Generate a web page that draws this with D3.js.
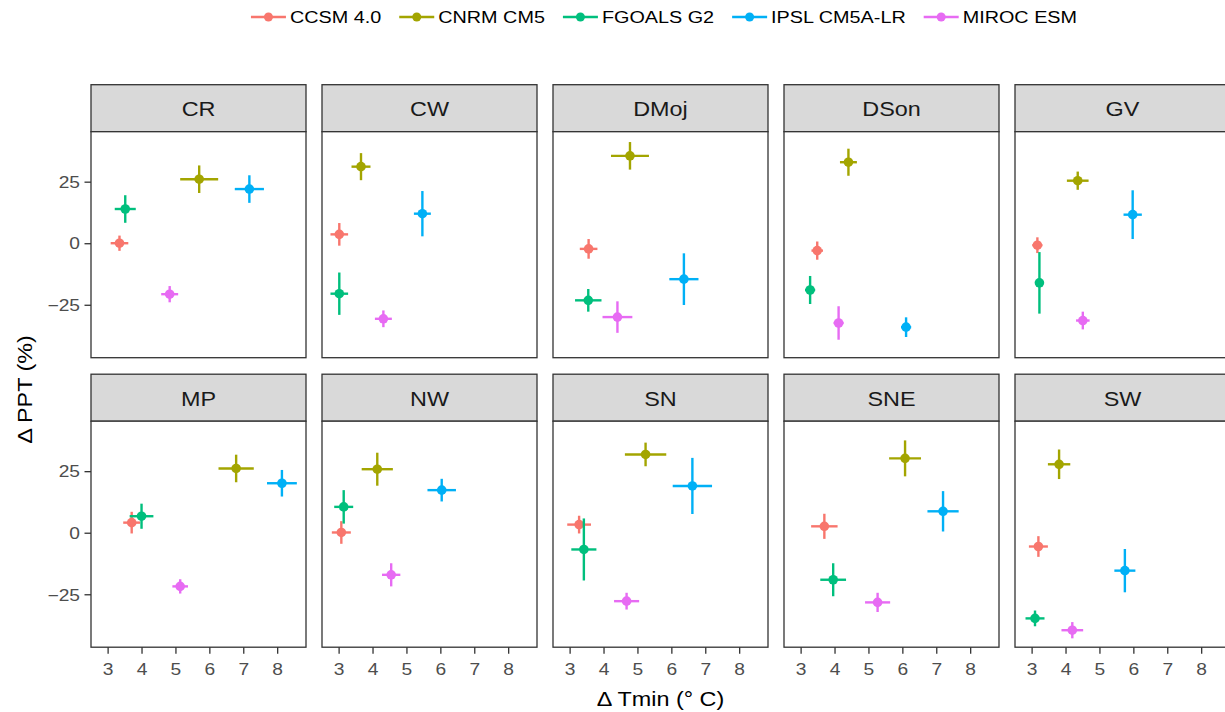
<!DOCTYPE html>
<html>
<head>
<meta charset="utf-8">
<script src="https://cdn.jsdelivr.net/npm/d3@7"></script>
<style>
  html, body { margin: 0; padding: 0; background: #fff; overflow: hidden; }
  svg { display: block; }
  text { font-family: "Liberation Sans", Arial, sans-serif; }
</style>
</head>
<body>
<svg id="chart" width="1225" height="712"></svg>
<script>
// ---------------- data ----------------
const models = ["CCSM 4.0", "CNRM CM5", "FGOALS G2", "IPSL CM5A-LR", "MIROC ESM"];
const colors = ["#F8766D", "#A3A500", "#00BF7D", "#00B0F6", "#E76BF3"];
const regions = ["CR", "CW", "DMoj", "DSon", "GV", "MP", "NW", "SN", "SNE", "SW"];

// Δ Tmin (°C) mean / half-width and Δ PPT (%) mean / half-width, in region order
const tminCCSM   = [3.35, 3.02, 3.56, 3.49, 3.17, 3.71, 3.08, 3.28, 3.70, 3.20];
const tminErrCCSM= [0.26, 0.26, 0.26, 0.17, 0.15, 0.25, 0.28, 0.35, 0.39, 0.28];
const pptCCSM    = [0.0, 3.6, -2.3, -3.0, -0.8, 4.1, 0.1, 3.3, 2.6, -5.6];
const pptErrCCSM = [3.1, 4.6, 4.0, 3.7, 3.2, 4.4, 4.6, 3.6, 5.1, 4.2];

const tminCNRM   = [5.70, 3.66, 4.78, 4.41, 4.36, 6.79, 4.14, 5.24, 6.08, 3.81];
const tminErrCNRM= [0.56, 0.28, 0.56, 0.25, 0.32, 0.52, 0.46, 0.61, 0.47, 0.33];
const pptCNRM    = [26.0, 31.1, 35.5, 32.9, 25.4, 26.1, 25.8, 31.8, 30.2, 27.8];
const pptErrCNRM = [5.6, 5.5, 5.6, 5.5, 3.7, 5.6, 6.7, 4.8, 7.3, 6.0];

const tminFGOALS   = [3.52, 3.02, 3.55, 3.28, 3.23, 4.00, 3.15, 3.42, 3.96, 3.10];
const tminErrFGOALS= [0.31, 0.26, 0.39, 0.15, 0.10, 0.35, 0.28, 0.37, 0.38, 0.28];
const pptFGOALS    = [13.9, -20.5, -23.2, -19.0, -16.1, 6.7, 10.5, -6.8, -19.1, -34.8];
const pptErrFGOALS = [5.6, 8.6, 4.6, 5.7, 12.5, 5.1, 6.8, 12.6, 6.7, 3.2];

const tminIPSL   = [7.18, 5.47, 6.37, 6.11, 5.98, 8.14, 6.04, 6.62, 7.20, 5.75];
const tminErrIPSL= [0.43, 0.25, 0.43, 0.15, 0.27, 0.44, 0.42, 0.58, 0.46, 0.31];
const pptIPSL    = [22.0, 12.0, -14.6, -34.1, 11.6, 20.1, 17.3, 19.0, 8.7, -15.4];
const pptErrIPSL = [5.6, 9.2, 10.5, 4.0, 9.9, 5.4, 4.6, 11.4, 8.2, 8.8];

const tminMIROC   = [4.83, 4.32, 4.41, 4.12, 4.51, 5.14, 4.55, 4.68, 5.27, 4.20];
const tminErrMIROC= [0.25, 0.25, 0.44, 0.15, 0.20, 0.23, 0.27, 0.37, 0.37, 0.32];
const pptMIROC    = [-20.7, -30.7, -30.0, -32.4, -31.4, -21.8, -17.1, -27.8, -28.3, -39.6];
const pptErrMIROC = [3.3, 3.4, 6.4, 6.8, 3.6, 2.9, 4.7, 3.4, 3.9, 3.3];

const xTicks = [3, 4, 5, 6, 7, 8];
const yTicks = [-25, 0, 25];
const xTitle = "\u0394 Tmin (\u00B0 C)";
const yTitle = "\u0394 PPT (%)";

// build rows
const series = [
  [tminCCSM, tminErrCCSM, pptCCSM, pptErrCCSM],
  [tminCNRM, tminErrCNRM, pptCNRM, pptErrCNRM],
  [tminFGOALS, tminErrFGOALS, pptFGOALS, pptErrFGOALS],
  [tminIPSL, tminErrIPSL, pptIPSL, pptErrIPSL],
  [tminMIROC, tminErrMIROC, pptMIROC, pptErrMIROC]
];
const rows = [];
series.forEach((s, mi) => {
  regions.forEach((r, ri) => {
    rows.push({ model: models[mi], region: r, x: s[0][ri], xe: s[1][ri], y: s[2][ri], ye: s[3][ri] });
  });
});

// ---------------- layout ----------------
const SX = 1.2; // horizontal text stretch seen in the reference rendering
const svg = d3.select("#chart");
const panelW = 215, panelH = 226, stripH = 47;
const colStep = 231, rowStep = 289.5;
const left0 = 91, stripTop0 = 84.7;
const tickLen = 6.5;
const color = d3.scaleOrdinal().domain(models).range(colors);

const xDomain = [2.51, 8.85];
const yDomain = [-46.5, 45.3];

function addText(parent, x, y, str, size, fill, anchor, rot) {
  return parent.append("text")
    .attr("transform", `translate(${x},${y})${rot ? " rotate(" + rot + ")" : ""} scale(${SX},1)`)
    .attr("text-anchor", anchor || "start")
    .attr("font-size", size).attr("fill", fill).text(str);
}

regions.forEach((reg, i) => {
  const col = i % 5, row = Math.floor(i / 5);
  const px = left0 + col * colStep;
  const sy = stripTop0 + row * rowStep;
  const py = sy + stripH;
  const x = d3.scaleLinear().domain(xDomain).range([px, px + panelW]);
  const y = d3.scaleLinear().domain(yDomain).range([py + panelH, py]);

  const g = svg.append("g");
  // strip
  g.append("rect").attr("x", px).attr("y", sy).attr("width", panelW).attr("height", stripH)
    .attr("fill", "#D9D9D9").attr("stroke", "#333").attr("stroke-width", 1.3);
  addText(g, px + panelW / 2, sy + stripH / 2 + 8, reg, 19.5, "#1A1A1A", "middle");
  // panel
  g.append("rect").attr("x", px).attr("y", py).attr("width", panelW).attr("height", panelH)
    .attr("fill", "#fff");

  const data = rows.filter(d => d.region === reg);
  const marks = g.append("g");
  data.forEach(d => {
    const c = color(d.model);
    marks.append("line").attr("x1", x(d.x)).attr("x2", x(d.x))
      .attr("y1", y(d.y - d.ye)).attr("y2", y(d.y + d.ye))
      .attr("stroke", c).attr("stroke-width", 2.4);
    marks.append("line").attr("x1", x(d.x - d.xe)).attr("x2", x(d.x + d.xe))
      .attr("y1", y(d.y)).attr("y2", y(d.y))
      .attr("stroke", c).attr("stroke-width", 2.4);
    marks.append("circle").attr("cx", x(d.x)).attr("cy", y(d.y)).attr("r", 4.8).attr("fill", c);
  });

  g.append("rect").attr("x", px).attr("y", py).attr("width", panelW).attr("height", panelH)
    .attr("fill", "none").attr("stroke", "#333").attr("stroke-width", 1.3);

  // y axis on first column
  if (col === 0) {
    const pad = 4.5;
    const ay = g.append("g").attr("transform", `translate(${px},0)`)
      .call(d3.axisLeft(y).tickValues(yTicks).tickSize(tickLen).tickPadding(pad).tickFormat(d3.format("d")));
    ay.select(".domain").remove();
    ay.selectAll(".tick line").attr("stroke", "#333").attr("stroke-width", 1.3);
    ay.selectAll(".tick text").attr("font-size", 16).attr("fill", "#4D4D4D")
      .attr("font-family", null).attr("dy", "0.36em")
      .attr("x", -(tickLen + pad) / SX).attr("transform", `scale(${SX},1)`);
  }
  // x axis on bottom row
  if (row === 1) {
    const ax = g.append("g").attr("transform", `translate(0,${py + panelH})`)
      .call(d3.axisBottom(x).tickValues(xTicks).tickSize(tickLen).tickPadding(10).tickFormat(d3.format("d")));
    ax.select(".domain").remove();
    ax.selectAll(".tick line").attr("stroke", "#333").attr("stroke-width", 1.3);
    ax.selectAll(".tick text").attr("font-size", 16).attr("fill", "#4D4D4D")
      .attr("font-family", null).attr("dy", "0.71em").attr("transform", `scale(${SX},1)`);
  }
});

// axis titles
const plotCenterX = left0 + (4 * colStep + panelW) / 2;
addText(svg, plotCenterX, 705.5, xTitle, 19.5, "#000", "middle");
const plotCenterY = stripTop0 + stripH + (rowStep + panelH) / 2;
addText(svg, 32, plotCenterY, yTitle, 19.5, "#000", "middle", -90);

// legend
const legend = svg.append("g");
const keyW = 35, gapKT = 4, gapItem = 18, legY = 17;
let cx = 0;
const items = [];
models.forEach((m, i) => {
  const it = legend.append("g");
  it.append("line").attr("x1", 0).attr("x2", keyW).attr("y1", 0).attr("y2", 0)
    .attr("stroke", colors[i]).attr("stroke-width", 2.4);
  it.append("circle").attr("cx", keyW / 2).attr("cy", 0).attr("r", 4.5).attr("fill", colors[i]);
  const t = addText(it, keyW + gapKT, 6, m, 16.5, "#000", "start");
  const w = t.node().getComputedTextLength() * SX;
  items.push({ g: it, x: cx });
  cx += keyW + gapKT + w + gapItem;
});
const totalW = cx - gapItem;
const startX = 664 - totalW / 2;
items.forEach(o => o.g.attr("transform", `translate(${startX + o.x},${legY})`));
</script>
</body>
</html>
